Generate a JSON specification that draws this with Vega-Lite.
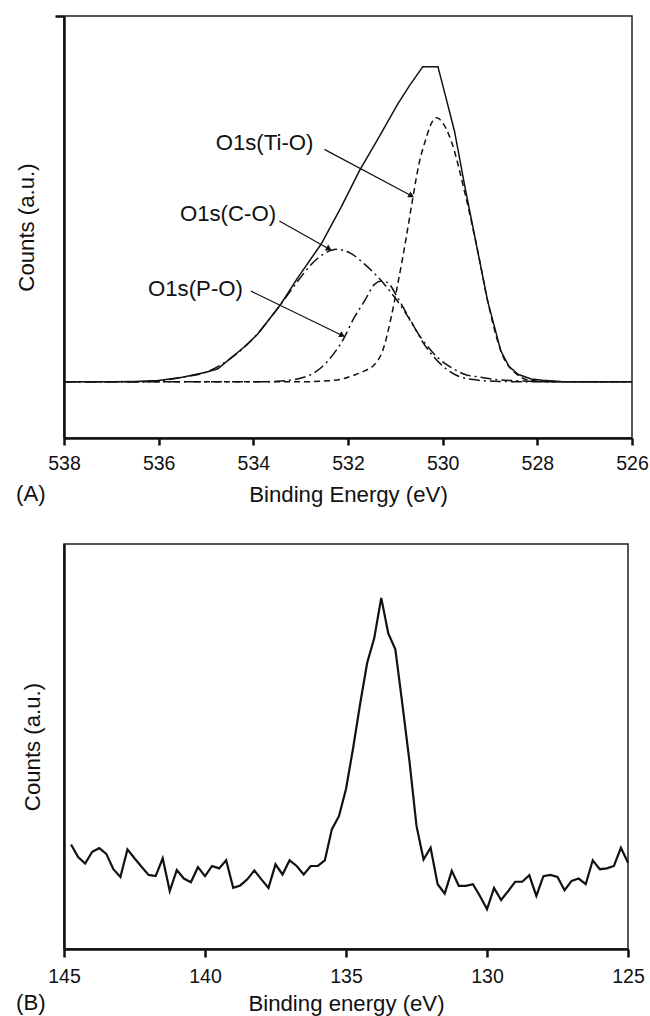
{
  "$schema": "https://vega.github.io/schema/vega-lite/v6.json",
  "background": "white",
  "padding": {"left": 15, "top": 14, "right": 4, "bottom": 0},
  "spacing": 106,
  "bounds": "flush",
  "config": {
    "font": "Liberation Sans",
    "view": {"stroke": "#222", "strokeWidth": 1.5},
    "axis": {
      "grid": false,
      "domainColor": "#111",
      "domainWidth": 2.5,
      "tickColor": "#111",
      "tickWidth": 2.5,
      "labelColor": "#111",
      "titleColor": "#111",
      "labelFont": "Liberation Sans",
      "titleFont": "Liberation Sans",
      "labelFontSize": 19.5,
      "titleFontSize": 22.2,
      "titleFontWeight": "normal",
      "labelFlush": false
    },
    "title": {"font": "Liberation Sans", "fontSize": 22.2, "fontWeight": "normal", "color": "#111"}
  },
  "datasets": {
    "a": [
      {"series": "Total", "E": 538, "V": 13.3},
      {"series": "Total", "E": 537, "V": 13.3},
      {"series": "Total", "E": 536.5, "V": 13.4},
      {"series": "Total", "E": 536, "V": 13.6},
      {"series": "Total", "E": 535.5, "V": 14.4},
      {"series": "Total", "E": 535, "V": 15.6},
      {"series": "Total", "E": 534.75, "V": 16.4},
      {"series": "Total", "E": 534.47, "V": 19.0},
      {"series": "Total", "E": 534.2, "V": 21.5},
      {"series": "Total", "E": 533.91, "V": 24.6},
      {"series": "Total", "E": 533.42, "V": 31.7},
      {"series": "Total", "E": 533.06, "V": 38.0},
      {"series": "Total", "E": 532.57, "V": 45.9},
      {"series": "Total", "E": 532.15, "V": 54.6},
      {"series": "Total", "E": 531.76, "V": 63.3},
      {"series": "Total", "E": 531.37, "V": 70.8},
      {"series": "Total", "E": 530.95, "V": 79.1},
      {"series": "Total", "E": 530.7, "V": 83.5},
      {"series": "Total", "E": 530.42, "V": 88.0},
      {"series": "Total", "E": 530.1, "V": 88.0},
      {"series": "Total", "E": 529.95, "V": 81.5},
      {"series": "Total", "E": 529.75, "V": 72.7},
      {"series": "Total", "E": 529.54, "V": 60.1},
      {"series": "Total", "E": 529.26, "V": 44.3},
      {"series": "Total", "E": 529.05, "V": 32.5},
      {"series": "Total", "E": 528.77, "V": 20.6},
      {"series": "Total", "E": 528.6, "V": 17.0},
      {"series": "Total", "E": 528.41, "V": 15.1},
      {"series": "Total", "E": 528.13, "V": 14.0},
      {"series": "Total", "E": 527.89, "V": 13.7},
      {"series": "Total", "E": 527.5, "V": 13.4},
      {"series": "Total", "E": 527, "V": 13.3},
      {"series": "Total", "E": 526, "V": 13.3},

      {"series": "O1s(Ti-O)", "E": 538, "V": 13.3},
      {"series": "O1s(Ti-O)", "E": 533, "V": 13.3},
      {"series": "O1s(Ti-O)", "E": 532.5, "V": 13.5},
      {"series": "O1s(Ti-O)", "E": 532.15, "V": 13.9},
      {"series": "O1s(Ti-O)", "E": 531.9, "V": 14.8},
      {"series": "O1s(Ti-O)", "E": 531.65, "V": 15.9},
      {"series": "O1s(Ti-O)", "E": 531.44, "V": 17.4},
      {"series": "O1s(Ti-O)", "E": 531.27, "V": 20.6},
      {"series": "O1s(Ti-O)", "E": 531.09, "V": 28.5},
      {"series": "O1s(Ti-O)", "E": 530.95, "V": 36.4},
      {"series": "O1s(Ti-O)", "E": 530.77, "V": 47.5},
      {"series": "O1s(Ti-O)", "E": 530.63, "V": 56.9},
      {"series": "O1s(Ti-O)", "E": 530.5, "V": 65.0},
      {"series": "O1s(Ti-O)", "E": 530.35, "V": 71.0},
      {"series": "O1s(Ti-O)", "E": 530.25, "V": 74.3},
      {"series": "O1s(Ti-O)", "E": 530.12, "V": 75.9},
      {"series": "O1s(Ti-O)", "E": 530.0, "V": 74.7},
      {"series": "O1s(Ti-O)", "E": 529.82, "V": 70.4},
      {"series": "O1s(Ti-O)", "E": 529.54, "V": 58.5},
      {"series": "O1s(Ti-O)", "E": 529.26, "V": 44.3},
      {"series": "O1s(Ti-O)", "E": 529.05, "V": 32.5},
      {"series": "O1s(Ti-O)", "E": 528.77, "V": 20.6},
      {"series": "O1s(Ti-O)", "E": 528.41, "V": 14.9},
      {"series": "O1s(Ti-O)", "E": 528.13, "V": 13.6},
      {"series": "O1s(Ti-O)", "E": 527.5, "V": 13.3},
      {"series": "O1s(Ti-O)", "E": 526, "V": 13.3},

      {"series": "O1s(C-O)", "E": 538, "V": 13.3},
      {"series": "O1s(C-O)", "E": 536.5, "V": 13.3},
      {"series": "O1s(C-O)", "E": 536, "V": 13.6},
      {"series": "O1s(C-O)", "E": 535.5, "V": 14.4},
      {"series": "O1s(C-O)", "E": 535, "V": 15.6},
      {"series": "O1s(C-O)", "E": 534.5, "V": 18.7},
      {"series": "O1s(C-O)", "E": 534, "V": 23.6},
      {"series": "O1s(C-O)", "E": 533.42, "V": 31.7},
      {"series": "O1s(C-O)", "E": 533.06, "V": 37.2},
      {"series": "O1s(C-O)", "E": 532.71, "V": 41.9},
      {"series": "O1s(C-O)", "E": 532.45, "V": 44.0},
      {"series": "O1s(C-O)", "E": 532.25, "V": 44.7},
      {"series": "O1s(C-O)", "E": 531.95, "V": 43.8},
      {"series": "O1s(C-O)", "E": 531.65, "V": 41.2},
      {"series": "O1s(C-O)", "E": 531.23, "V": 36.4},
      {"series": "O1s(C-O)", "E": 530.81, "V": 30.1},
      {"series": "O1s(C-O)", "E": 530.46, "V": 23.8},
      {"series": "O1s(C-O)", "E": 530.1, "V": 19.0},
      {"series": "O1s(C-O)", "E": 529.8, "V": 16.6},
      {"series": "O1s(C-O)", "E": 529.54, "V": 15.1},
      {"series": "O1s(C-O)", "E": 529.2, "V": 14.4},
      {"series": "O1s(C-O)", "E": 528.9, "V": 13.9},
      {"series": "O1s(C-O)", "E": 528.3, "V": 13.5},
      {"series": "O1s(C-O)", "E": 527.5, "V": 13.3},
      {"series": "O1s(C-O)", "E": 526, "V": 13.3},

      {"series": "O1s(P-O)", "E": 538, "V": 13.3},
      {"series": "O1s(P-O)", "E": 534, "V": 13.3},
      {"series": "O1s(P-O)", "E": 533.42, "V": 13.5},
      {"series": "O1s(P-O)", "E": 532.85, "V": 14.7},
      {"series": "O1s(P-O)", "E": 532.43, "V": 18.2},
      {"series": "O1s(P-O)", "E": 532.08, "V": 23.8},
      {"series": "O1s(P-O)", "E": 531.87, "V": 28.5},
      {"series": "O1s(P-O)", "E": 531.65, "V": 32.5},
      {"series": "O1s(P-O)", "E": 531.44, "V": 36.4},
      {"series": "O1s(P-O)", "E": 531.3, "V": 37.2},
      {"series": "O1s(P-O)", "E": 531.16, "V": 36.8},
      {"series": "O1s(P-O)", "E": 530.95, "V": 33.2},
      {"series": "O1s(P-O)", "E": 530.67, "V": 27.7},
      {"series": "O1s(P-O)", "E": 530.39, "V": 22.2},
      {"series": "O1s(P-O)", "E": 529.96, "V": 16.7},
      {"series": "O1s(P-O)", "E": 529.7, "V": 14.8},
      {"series": "O1s(P-O)", "E": 529.4, "V": 13.9},
      {"series": "O1s(P-O)", "E": 528.8, "V": 13.4},
      {"series": "O1s(P-O)", "E": 528, "V": 13.3},
      {"series": "O1s(P-O)", "E": 526, "V": 13.3}
    ],
    "arrows": [
      {"label": "O1s(Ti-O)", "x1": 532.5, "y1": 68.4, "x2": 530.66, "y2": 57.4, "tx": 532.73, "ty": 69.9},
      {"label": "O1s(C-O)", "x1": 533.45, "y1": 51.4, "x2": 532.4, "y2": 44.8, "tx": 533.52, "ty": 53.1},
      {"label": "O1s(P-O)", "x1": 534.05, "y1": 34.8, "x2": 532.12, "y2": 24.3, "tx": 534.22, "ty": 35.3}
    ],
    "b": [
      {"E": 144.75, "V": 25.8}, {"E": 144.5, "V": 22.7}, {"E": 144.25, "V": 21.1}, {"E": 144.0, "V": 24.0},
      {"E": 143.75, "V": 24.9}, {"E": 143.5, "V": 23.5}, {"E": 143.25, "V": 19.7}, {"E": 143.0, "V": 17.8},
      {"E": 142.75, "V": 24.6}, {"E": 142.5, "V": 22.4}, {"E": 142.25, "V": 20.3}, {"E": 142.0, "V": 18.3},
      {"E": 141.75, "V": 18.0}, {"E": 141.5, "V": 22.4}, {"E": 141.25, "V": 14.3}, {"E": 141.0, "V": 19.5},
      {"E": 140.75, "V": 17.4}, {"E": 140.5, "V": 16.5}, {"E": 140.25, "V": 20.2}, {"E": 140.0, "V": 18.0},
      {"E": 139.75, "V": 20.5}, {"E": 139.5, "V": 19.9}, {"E": 139.25, "V": 21.9}, {"E": 139.0, "V": 15.1},
      {"E": 138.75, "V": 15.7}, {"E": 138.5, "V": 17.2}, {"E": 138.25, "V": 19.4}, {"E": 138.0, "V": 17.2},
      {"E": 137.75, "V": 15.1}, {"E": 137.5, "V": 20.9}, {"E": 137.25, "V": 18.4}, {"E": 137.0, "V": 21.9},
      {"E": 136.75, "V": 20.5}, {"E": 136.5, "V": 18.4}, {"E": 136.25, "V": 20.5}, {"E": 136.0, "V": 20.5},
      {"E": 135.75, "V": 21.9}, {"E": 135.5, "V": 29.6}, {"E": 135.25, "V": 32.8}, {"E": 135.0, "V": 39.5},
      {"E": 134.75, "V": 49.5}, {"E": 134.5, "V": 60.5}, {"E": 134.25, "V": 70.6}, {"E": 134.0, "V": 76.7},
      {"E": 133.75, "V": 86.7}, {"E": 133.5, "V": 77.9}, {"E": 133.25, "V": 74.0}, {"E": 133.0, "V": 60.4},
      {"E": 132.75, "V": 46.4}, {"E": 132.5, "V": 30.4}, {"E": 132.25, "V": 22.1}, {"E": 132.0, "V": 25.0},
      {"E": 131.75, "V": 16.0}, {"E": 131.5, "V": 13.7}, {"E": 131.25, "V": 19.3}, {"E": 131.0, "V": 15.6},
      {"E": 130.75, "V": 15.6}, {"E": 130.5, "V": 16.0}, {"E": 130.25, "V": 13.1}, {"E": 130.0, "V": 9.8},
      {"E": 129.75, "V": 15.1}, {"E": 129.5, "V": 12.1}, {"E": 129.25, "V": 14.3}, {"E": 129.0, "V": 16.6},
      {"E": 128.75, "V": 16.6}, {"E": 128.5, "V": 18.2}, {"E": 128.25, "V": 13.1}, {"E": 128.0, "V": 18.0},
      {"E": 127.75, "V": 18.3}, {"E": 127.5, "V": 17.8}, {"E": 127.25, "V": 14.5}, {"E": 127.0, "V": 16.8},
      {"E": 126.75, "V": 17.4}, {"E": 126.5, "V": 16.0}, {"E": 126.25, "V": 21.9}, {"E": 126.0, "V": 19.7},
      {"E": 125.75, "V": 19.9}, {"E": 125.5, "V": 20.5}, {"E": 125.25, "V": 25.0}, {"E": 125.0, "V": 21.3}
    ]
  },
  "vconcat": [
    {
      "width": 568,
      "height": 422,
      "title": {"text": "(A)", "orient": "bottom", "anchor": "start", "frame": "group", "dx": -48, "dy": -23, "offset": 0},
      "layer": [
        {
          "data": {"name": "a"},
          "transform": [{"filter": "datum.series !== 'Total'"}],
          "mark": {"type": "line", "strokeWidth": 1.5, "color": "#111", "interpolate": "monotone"},
          "encoding": {
            "x": {"field": "E", "type": "quantitative", "title": "Binding Energy (eV)",
                  "scale": {"domain": [526, 538], "reverse": true, "nice": false, "zero": false},
                  "axis": {"values": [538, 536, 534, 532, 530, 528, 526], "format": "d", "tickSize": 7, "labelPadding": 9, "titlePadding": 11}},
            "y": {"field": "V", "type": "quantitative", "title": "Counts (a.u.)",
                  "scale": {"domain": [0, 100], "nice": false, "zero": false},
                  "axis": {"values": [100], "labels": false, "tickSize": 9, "titlePadding": 15}},
            "strokeDash": {"field": "series", "type": "nominal", "legend": null,
                           "scale": {"domain": ["O1s(Ti-O)", "O1s(C-O)", "O1s(P-O)"],
                                     "range": [[6, 4], [11, 4, 2, 4], [11, 4, 2, 4]]}}
          }
        },
        {
          "data": {"name": "a"},
          "transform": [{"filter": "datum.series === 'Total'"}],
          "mark": {"type": "line", "strokeWidth": 1.5, "color": "#111", "interpolate": "linear"},
          "encoding": {
            "x": {"field": "E", "type": "quantitative", "title": "Binding Energy (eV)", "scale": {"domain": [526, 538], "reverse": true, "nice": false, "zero": false}},
            "y": {"field": "V", "type": "quantitative", "title": "Counts (a.u.)", "scale": {"domain": [0, 100], "nice": false, "zero": false}}
          }
        },
        {
          "data": {"name": "arrows"},
          "mark": {"type": "rule", "strokeWidth": 1.2, "color": "#111"},
          "encoding": {
            "x": {"field": "x1", "type": "quantitative", "title": "Binding Energy (eV)", "scale": {"domain": [526, 538], "reverse": true, "nice": false, "zero": false}},
            "y": {"field": "y1", "type": "quantitative", "title": "Counts (a.u.)", "scale": {"domain": [0, 100], "nice": false, "zero": false}},
            "x2": {"field": "x2"},
            "y2": {"field": "y2"}
          }
        },
        {
          "data": {"name": "arrows"},
          "mark": {"type": "point", "shape": "triangle-right", "filled": true, "size": 45, "color": "#111", "opacity": 1},
          "encoding": {
            "x": {"field": "x2", "type": "quantitative", "title": "Binding Energy (eV)", "scale": {"domain": [526, 538], "reverse": true, "nice": false, "zero": false}},
            "y": {"field": "y2", "type": "quantitative", "title": "Counts (a.u.)", "scale": {"domain": [0, 100], "nice": false, "zero": false}},
            "angle": {"field": "label", "type": "nominal", "legend": null,
                      "scale": {"type": "ordinal", "domain": ["O1s(Ti-O)", "O1s(C-O)", "O1s(P-O)"], "range": [29, 30, 27]}}
          }
        },
        {
          "data": {"name": "arrows"},
          "mark": {"type": "text", "align": "right", "baseline": "middle", "fontSize": 22.2, "font": "Liberation Sans", "color": "#111"},
          "encoding": {
            "x": {"field": "tx", "type": "quantitative", "title": "Binding Energy (eV)", "scale": {"domain": [526, 538], "reverse": true, "nice": false, "zero": false}},
            "y": {"field": "ty", "type": "quantitative", "title": "Counts (a.u.)", "scale": {"domain": [0, 100], "nice": false, "zero": false}},
            "text": {"field": "label"}
          }
        }
      ]
    },
    {
      "width": 564,
      "height": 405,
      "title": {"text": "(B)", "orient": "bottom", "anchor": "start", "frame": "group", "dx": -48, "dy": -23, "offset": 0},
      "data": {"name": "b"},
      "mark": {"type": "line", "strokeWidth": 2.2, "color": "#111"},
      "encoding": {
        "x": {"field": "E", "type": "quantitative", "title": "Binding energy (eV)",
              "scale": {"domain": [125, 145], "reverse": true, "nice": false, "zero": false},
              "axis": {"values": [145, 140, 135, 130, 125], "format": "d", "tickSize": 8, "labelPadding": 10, "titlePadding": 7}},
        "y": {"field": "V", "type": "quantitative", "title": "Counts (a.u.)",
              "scale": {"domain": [0, 100], "nice": false, "zero": false},
              "axis": {"labels": false, "ticks": false, "values": [], "titlePadding": 20}}
      }
    }
  ]
}
